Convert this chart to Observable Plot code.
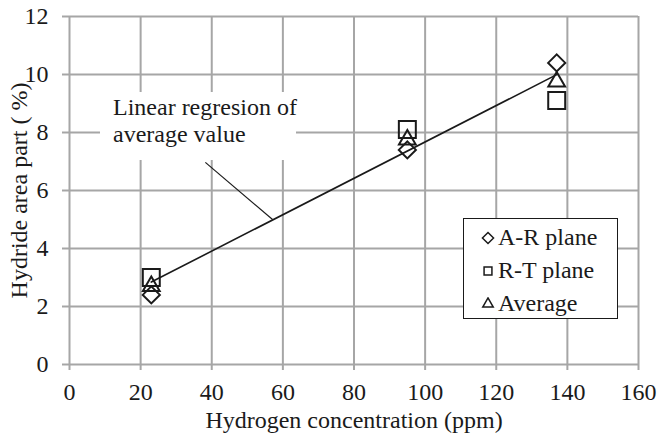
<!DOCTYPE html>
<html>
<head>
<meta charset="utf-8">
<script src="https://cdn.jsdelivr.net/npm/d3@7"></script>
<script src="https://cdn.jsdelivr.net/npm/@observablehq/plot@0.6"></script>
<style>
  body { margin: 0; background: #fff; font-family: 'Liberation Serif', serif; font-size: 24px; color: #1a1a1a; }
  #chart { position: relative; width: 658px; height: 442px; }
  #chart > svg { display: block; }
</style>
</head>
<body>
<div id="chart"></div>
<script>
// Hydride area fraction versus hydrogen concentration
const concentration = [23, 95, 137];          // ppm
const arPlane = [2.4, 7.4, 10.4];              // % (A-R plane)
const rtPlane = [3.0, 8.1, 9.1];               // % (R-T plane)
const average = [2.7, 7.75, 9.75];             // % (mean of both planes)

const xTicks = [0, 20, 40, 60, 80, 100, 120, 140, 160];
const yTicks = [0, 2, 4, 6, 8, 10, 12];

const seriesNames = ["A-R plane", "R-T plane", "Average"];
const seriesSymbols = ["diamond2", "square2", "triangle2"];
const seriesRadius = [7.7, 10.8, 8];

const xTitle = "Hydrogen concentration (ppm)";
const yTitle = "Hydride area part ( %)";
const noteLines = ["Linear regresion of", "average value"];
// leader from the note to the regression line (data units)
const leader = [{x1: 38.2, y1: 6.97, x2: 57.1, y2: 5.0}];

const seriesValues = [arPlane, rtPlane, average];
const rows = seriesNames.flatMap((name, s) =>
  concentration.map((c, i) => ({series: name, c, v: seriesValues[s][i]})));

const gridColor = "#a6a6a6";
const ink = "#1a1a1a";
const serif = "Liberation Serif";

const plot = Plot.plot({
  width: 658,
  height: 442,
  marginLeft: 69,
  marginRight: 20,
  marginTop: 16,
  marginBottom: 78,
  style: {fontFamily: serif, fontSize: "24px", background: "#fff"},
  x: {domain: [0, 160]},
  y: {domain: [0, 12]},
  marks: [
    Plot.gridX(xTicks, {stroke: gridColor, strokeOpacity: 1, strokeWidth: 2}),
    Plot.gridY(yTicks, {stroke: gridColor, strokeOpacity: 1, strokeWidth: 2}),
    Plot.axisX(xTicks, {tickSize: 6, tickPadding: 12, stroke: gridColor, strokeWidth: 2, fill: ink, label: null}),
    Plot.axisY(yTicks, {tickSize: 7, tickPadding: 14, stroke: gridColor, strokeWidth: 2, fill: ink, label: null}),
    Plot.text([xTitle], {text: d => d, frameAnchor: "bottom", textAnchor: "middle", dy: 63, fill: ink}),
    Plot.text([yTitle], {text: d => d, frameAnchor: "left", textAnchor: "middle", dx: -50, rotate: -90, fill: ink}),
    Plot.link(leader, {x1: "x1", y1: "y1", x2: "x2", y2: "y2", stroke: ink, strokeWidth: 1.2}),
    Plot.linearRegressionY(rows.filter(d => d.series === "Average"),
      {x: "c", y: "v", ci: 0, stroke: ink, strokeWidth: 1.6}),
    ...seriesNames.map((name, s) =>
      Plot.dot(rows.filter(d => d.series === name), {
        x: "c", y: "v", symbol: seriesSymbols[s], r: seriesRadius[s],
        stroke: ink, strokeWidth: 2, fill: "none"
      }))
  ]
});

const chart = document.getElementById("chart");
chart.appendChild(plot);

// note box over the grid
const note = document.createElement("div");
note.setAttribute("style",
  "position:absolute;left:100px;top:92px;width:196px;height:68px;background:#fff;" +
  "font-family:'Liberation Serif',serif;font-size:24px;line-height:27px;" +
  "padding:2px 0 0 13px;box-sizing:border-box;white-space:nowrap;");
noteLines.forEach(t => {
  const line = document.createElement("div");
  line.textContent = t;
  note.appendChild(line);
});
chart.appendChild(note);

// legend box
const legend = document.createElement("div");
legend.setAttribute("style",
  "position:absolute;left:463px;top:218px;width:155px;height:101px;background:#fff;" +
  "border:1.5px solid #1a1a1a;box-sizing:border-box;padding-top:2px;" +
  "font-family:'Liberation Serif',serif;font-size:24px;");
const legendSymbols = [d3.symbolDiamond2, d3.symbolSquare2, d3.symbolTriangle2];
seriesNames.forEach((name, s) => {
  const row = document.createElement("div");
  row.setAttribute("style", "display:flex;align-items:center;height:33px;padding-left:17px;");
  const path = d3.symbol(legendSymbols[s], 5 * 5 * Math.PI)();
  row.innerHTML = `<svg width="14" height="14" viewBox="-7 -7 14 14" style="margin-right:3px"><path d="${path}" fill="none" stroke="${ink}" stroke-width="1.5"/></svg>`;
  const label = document.createElement("span");
  label.textContent = name;
  row.appendChild(label);
  legend.appendChild(row);
});
chart.appendChild(legend);
</script>
</body>
</html>
